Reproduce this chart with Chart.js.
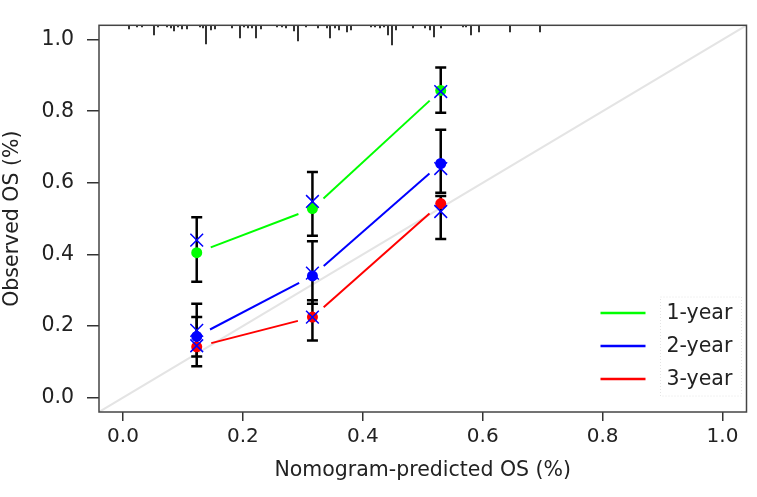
<!DOCTYPE html>
<html>
<head>
<meta charset="utf-8">
<script src="https://cdn.jsdelivr.net/npm/chart.js@4.4.0/dist/chart.umd.min.js"></script>
<style>
  html, body { margin: 0; padding: 0; background: #fff; }
  #wrap { width: 757px; height: 497px; }
</style>
</head>
<body>
<div id="wrap"><canvas id="calib" width="757" height="497"></canvas></div>
<script>
// Calibration curve data
const tickValues = [0, 0.2, 0.4, 0.6, 0.8, 1.0];
const seriesNames = ['1-year', '2-year', '3-year'];
const seriesColors = ['#00ff00', '#0000ff', '#ff0000'];

const predicted = [0.123, 0.316, 0.530];

const observed1 = [0.405, 0.528, 0.858];
const observed2 = [0.171, 0.340, 0.654];
const observed3 = [0.142, 0.225, 0.542];

const corrected1 = [0.440, 0.548, 0.855];
const corrected2 = [0.188, 0.348, 0.640];
const corrected3 = [0.145, 0.225, 0.520];

const lower1 = [0.324, 0.452, 0.796];
const upper1 = [0.504, 0.630, 0.922];
const lower2 = [0.115, 0.262, 0.572];
const upper2 = [0.262, 0.437, 0.748];
const lower3 = [0.088, 0.160, 0.443];
const upper3 = [0.225, 0.272, 0.563];

// distribution of predicted values (spike histogram at the top)
const rugValues = [0.010, 0.023, 0.031, 0.051, 0.058, 0.073, 0.080, 0.085, 0.091, 0.099,
    0.106, 0.128, 0.134, 0.139, 0.147, 0.154, 0.182, 0.196, 0.202, 0.209,
    0.215, 0.222, 0.230, 0.257, 0.265, 0.272, 0.285, 0.292, 0.305, 0.325,
    0.340, 0.346, 0.353, 0.360, 0.373, 0.381, 0.414, 0.421, 0.429, 0.436,
    0.442, 0.449, 0.456, 0.484, 0.504, 0.512, 0.519, 0.530, 0.567, 0.572,
    0.580, 0.593, 0.646, 0.696];
const rugFreq = [4, 2, 2, 10, 2, 2, 3, 6, 2, 4,
    4, 2, 3, 19, 5, 4, 3, 13, 2, 3,
    3, 13, 4, 2, 2, 3, 6, 16, 2, 3,
    3, 13, 3, 5, 7, 5, 2, 2, 3, 2,
    10, 20, 5, 3, 3, 5, 12, 3, 2, 2,
    10, 7, 7, 7];

const axisMin = -0.04;
const axisMax = 1.04;

const observed = [observed1, observed2, observed3];
const corrected = [corrected1, corrected2, corrected3];
const lowers = [lower1, lower2, lower3];
const uppers = [upper1, upper2, upper3];

const FONT = '"DejaVu Sans", Verdana, sans-serif';
const FONT_SIZE = 20.5;
const TEXT = '#222';

const toPoints = ys => predicted.map((x, i) => ({ x: x, y: ys[i] }));

/**
 * Draws the gapped connecting lines (R type="b") and the error bars,
 * right after the reference diagonal.
 */
const calibLayer = {
    id: 'calibLayer',
    afterDatasetDraw(chart, args) {
        if (chart.data.datasets[args.index].label !== 'ideal') return;
        const { ctx, scales: { x, y } } = chart;
        const gap = 15;
        ctx.save();
        ctx.lineCap = 'butt';
        observed.forEach((ys, s) => {
            ctx.strokeStyle = seriesColors[s];
            ctx.lineWidth = 2;
            for (let i = 0; i < predicted.length - 1; i++) {
                const x0 = x.getPixelForValue(predicted[i]);
                const y0 = y.getPixelForValue(ys[i]);
                const x1 = x.getPixelForValue(predicted[i + 1]);
                const y1 = y.getPixelForValue(ys[i + 1]);
                const len = Math.hypot(x1 - x0, y1 - y0);
                const ux = (x1 - x0) / len, uy = (y1 - y0) / len;
                ctx.beginPath();
                ctx.moveTo(x0 + ux * gap, y0 + uy * gap);
                ctx.lineTo(x1 - ux * gap, y1 - uy * gap);
                ctx.stroke();
            }
        });
        // error bars
        ctx.strokeStyle = '#000';
        ctx.lineWidth = 2.5;
        lowers.forEach((lo, s) => {
            lo.forEach((v, i) => {
                const px = x.getPixelForValue(predicted[i]);
                const yl = y.getPixelForValue(v);
                const yh = y.getPixelForValue(uppers[s][i]);
                ctx.beginPath();
                ctx.moveTo(px, yl); ctx.lineTo(px, yh);
                ctx.moveTo(px - 5.5, yl); ctx.lineTo(px + 5.5, yl);
                ctx.moveTo(px - 5.5, yh); ctx.lineTo(px + 5.5, yh);
                ctx.stroke();
            });
        });
        ctx.restore();
    }
};

/**
 * Plot box, top rug and the in-plot legend
 */
const frameAndLegend = {
    id: 'frameAndLegend',
    afterDatasetsDraw(chart) {
        const { ctx, chartArea: a, scales: { x } } = chart;
        ctx.save();
        // rug spikes
        ctx.strokeStyle = '#333';
        ctx.lineWidth = 2;
        rugValues.forEach((v, i) => {
            const px = Math.round(x.getPixelForValue(v));
            ctx.beginPath();
            ctx.moveTo(px, a.top);
            ctx.lineTo(px, a.top + rugFreq[i]);
            ctx.stroke();
        });
        // box
        ctx.strokeStyle = '#444';
        ctx.lineWidth = 1.5;
        ctx.strokeRect(a.left, a.top, a.right - a.left, a.bottom - a.top);

        // legend
        const lx0 = a.right - 146, lx1 = a.right - 101, tx = a.right - 80;
        ctx.setLineDash([1, 2]);
        ctx.strokeStyle = '#e4e4e4';
        ctx.lineWidth = 1;
        ctx.strokeRect(a.right - 86, a.bottom - 115, 81, 99);
        ctx.setLineDash([]);
        ctx.font = FONT_SIZE + 'px ' + FONT;
        ctx.textBaseline = 'middle';
        ctx.fillStyle = TEXT;
        seriesNames.forEach((name, i) => {
            const ly = a.bottom - 99 + i * 33;
            ctx.strokeStyle = seriesColors[i];
            ctx.lineWidth = 2.5;
            ctx.beginPath();
            ctx.moveTo(lx0, ly); ctx.lineTo(lx1, ly);
            ctx.stroke();
            ctx.fillText(name, tx, ly + 1);
        });
        ctx.restore();
    }
};

const datasets = [{
    label: 'ideal',
    type: 'line',
    data: [{ x: axisMin, y: axisMin }, { x: axisMax, y: axisMax }],
    borderColor: '#e4e4e4',
    borderWidth: 2,
    pointRadius: 0,
    order: 3
}];
observed.forEach((ys, s) => datasets.push({
    label: seriesNames[s],
    data: toPoints(ys),
    pointStyle: 'circle',
    pointRadius: 5.5,
    pointBackgroundColor: seriesColors[s],
    pointBorderWidth: 0,
    order: 2
}));
corrected.forEach((ys, s) => datasets.push({
    label: seriesNames[s] + ' corrected',
    data: toPoints(ys),
    pointStyle: 'crossRot',
    pointRadius: 9,
    pointBorderColor: '#0000ff',
    pointBorderWidth: 1.5,
    order: 1
}));

const axisTicks = axis => { axis.ticks = tickValues.map(v => ({ value: v })); };

new Chart(document.getElementById('calib'), {
    type: 'scatter',
    data: { datasets },
    plugins: [calibLayer, frameAndLegend],
    options: {
        responsive: false,
        animation: false,
        layout: { padding: { top: 9, right: 6, left: 0, bottom: 0 } },
        plugins: {
            legend: { display: false },
            tooltip: { enabled: false }
        },
        scales: {
            x: {
                type: 'linear',
                min: axisMin,
                max: axisMax,
                afterBuildTicks: axisTicks,
                afterFit: s => { s.height = 85; s.paddingRight = 0; s.paddingLeft = 0; },
                border: { display: false },
                grid: { drawOnChartArea: false, tickLength: 9, color: '#333', lineWidth: 1.5 },
                ticks: {
                    padding: 4,
                    color: TEXT,
                    font: { family: FONT, size: 20 },
                    callback: v => v.toFixed(1)
                },
                title: {
                    display: true,
                    text: 'Nomogram-predicted OS (%)',
                    color: TEXT,
                    font: { family: FONT, size: FONT_SIZE },
                    padding: { top: 0, bottom: 14 }
                }
            },
            y: {
                type: 'linear',
                min: axisMin,
                max: axisMax,
                afterBuildTicks: axisTicks,
                afterFit: s => { s.width = 99; },
                border: { display: false },
                grid: { drawOnChartArea: false, tickLength: 12, color: '#333', lineWidth: 1.5 },
                ticks: {
                    padding: 13,
                    color: TEXT,
                    font: { family: FONT, size: FONT_SIZE },
                    callback: v => v.toFixed(1)
                },
                title: {
                    display: true,
                    text: 'Observed OS (%)',
                    color: TEXT,
                    font: { family: FONT, size: FONT_SIZE },
                    padding: { top: 0, bottom: 0 }
                }
            }
        }
    }
});
</script>
</body>
</html>
